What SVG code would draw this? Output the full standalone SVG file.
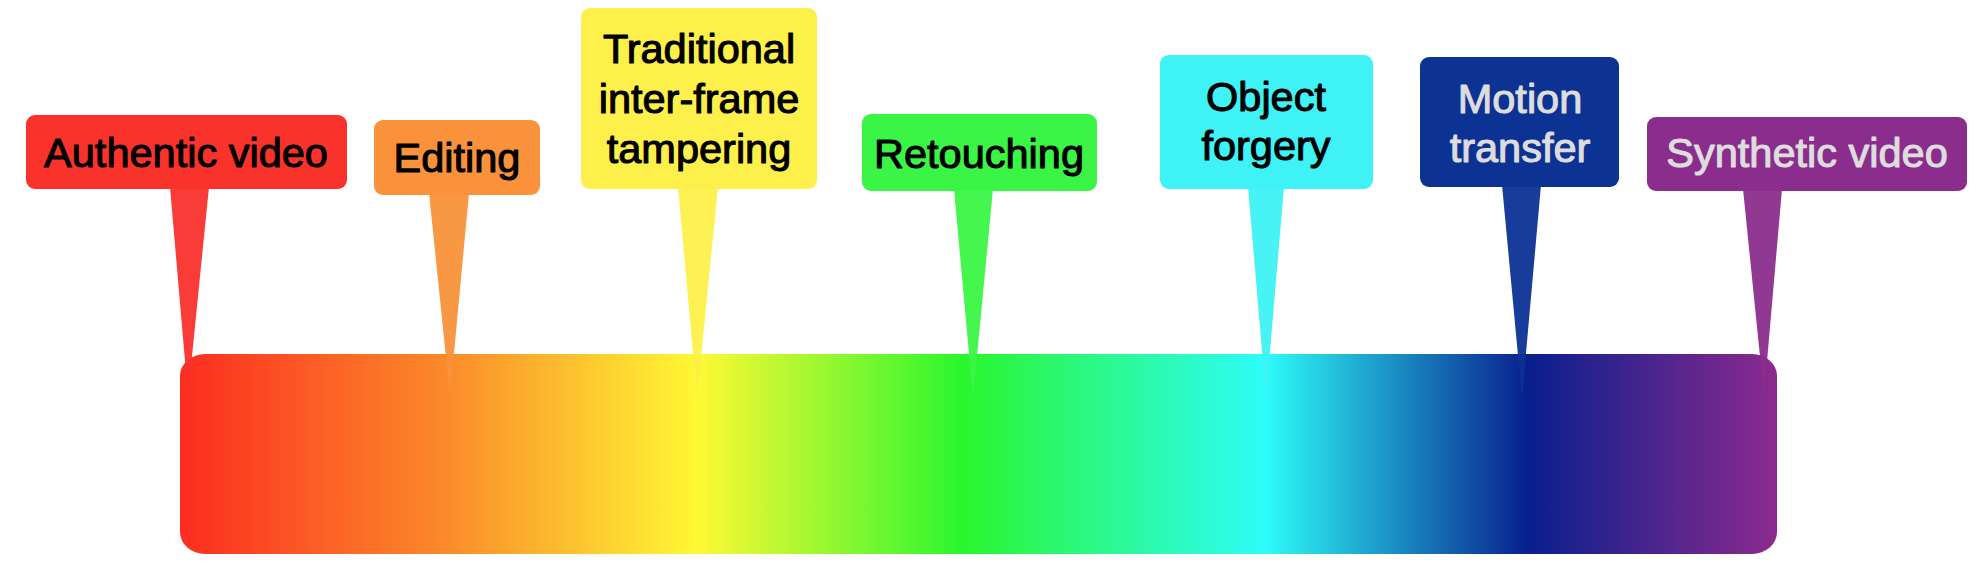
<svg xmlns="http://www.w3.org/2000/svg" width="1984" height="580" viewBox="0 0 1984 580">
<style>
.lbl{font-family:"Liberation Sans",Arial,Helvetica,sans-serif;font-size:41.5px;text-anchor:middle;fill:#000;stroke:#000;stroke-width:1.1px;stroke-linejoin:round}
.lt{fill:#DDDDDD;stroke:#DDDDDD}
</style>
<defs>
<linearGradient id="spec" x1="180" y1="0" x2="1777" y2="0" gradientUnits="userSpaceOnUse">
<stop offset="0" stop-color="#FC2D20"/>
<stop offset="0.169" stop-color="#FB8C2A"/>
<stop offset="0.324" stop-color="#FFF934"/>
<stop offset="0.490" stop-color="#2AF62E"/>
<stop offset="0.679" stop-color="#2DFCF9"/>
<stop offset="0.844" stop-color="#081F8D"/>
<stop offset="1" stop-color="#8C2A8E"/>
</linearGradient>
</defs>
<rect width="1984" height="580" fill="#fff"/>
<g id="spectrum">
<rect x="180" y="354" width="1597" height="200" rx="25" ry="22" fill="url(#spec)"/>
</g>
<g id="connectors">
<polygon points="170,187 209,187 188,396" fill="#F9322C" fill-opacity="0.95"/>
<polygon points="429,193 469,193 450,396" fill="#F9923A" fill-opacity="0.95"/>
<polygon points="678,187 718,187 697,398" fill="#FDF04A" fill-opacity="0.95"/>
<polygon points="954,189 993,189 973,398" fill="#3BF546" fill-opacity="0.95"/>
<polygon points="1248,187 1284,187 1266,398" fill="#3EF2F6" fill-opacity="0.95"/>
<polygon points="1502,185 1541,185 1522,398" fill="#0C3294" fill-opacity="0.95"/>
<polygon points="1743,189 1782,189 1764,396" fill="#8A2D8C" fill-opacity="0.95"/>
</g>
<g id="authentic">
<rect x="26" y="115" width="321" height="74" rx="9" fill="#F9322C"/>
<text class="lbl" x="186" y="167">Authentic video</text>
</g>
<g id="editing">
<rect x="374" y="120" width="166" height="75" rx="9" fill="#F9923A"/>
<text class="lbl" x="457" y="172">Editing</text>
</g>
<g id="traditional">
<rect x="581" y="8" width="236" height="181" rx="9" fill="#FDF04A"/>
<text class="lbl" x="699" y="63">Traditional</text>
<text class="lbl" x="699" y="113">inter-frame</text>
<text class="lbl" x="699" y="163">tampering</text>
</g>
<g id="retouching">
<rect x="862" y="114" width="235" height="77" rx="9" fill="#3BF546"/>
<text class="lbl" x="979" y="168">Retouching</text>
</g>
<g id="object">
<rect x="1160" y="55" width="213" height="134" rx="9" fill="#3EF2F6"/>
<text class="lbl" x="1266" y="111">Object</text>
<text class="lbl" x="1266" y="160">forgery</text>
</g>
<g id="motion">
<rect x="1420" y="57" width="199" height="130" rx="9" fill="#0C3294"/>
<text class="lbl lt" x="1520" y="113">Motion</text>
<text class="lbl lt" x="1520" y="162">transfer</text>
</g>
<g id="synthetic">
<rect x="1647" y="117" width="320" height="74" rx="9" fill="#8A2D8C"/>
<text class="lbl lt" x="1807" y="167">Synthetic video</text>
</g>
</svg>
